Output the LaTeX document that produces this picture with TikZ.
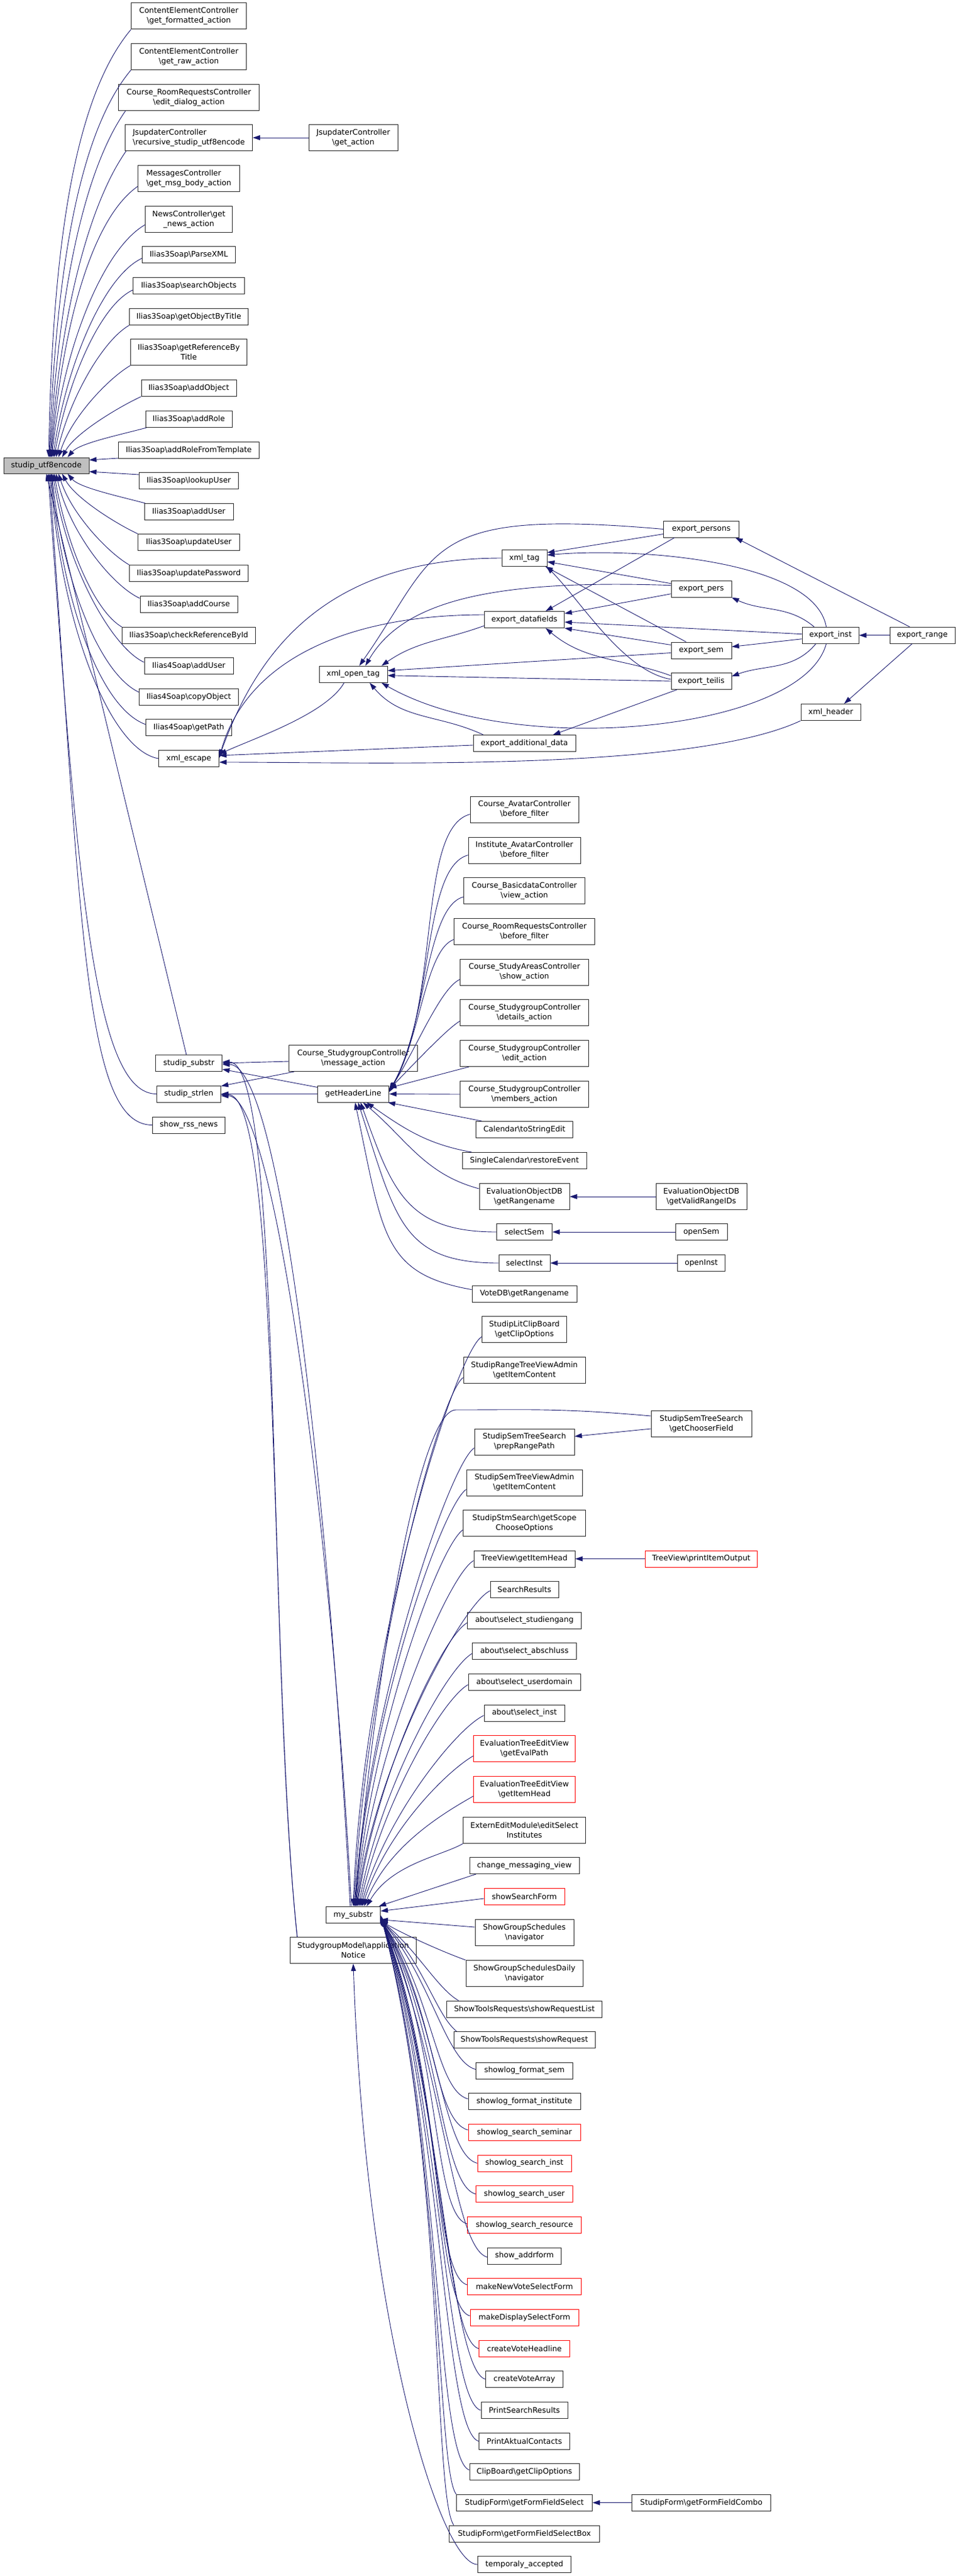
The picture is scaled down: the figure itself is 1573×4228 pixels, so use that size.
\documentclass[tikz,border=0pt]{standalone}
\usepackage{fontspec}
\setmainfont{DejaVu Sans}
\usetikzlibrary{arrows.meta,calc}
\definecolor{navy}{HTML}{191970}
\definecolor{gfill}{HTML}{BFBFBF}
\newcommand\bsl{\textbackslash}
\newcommand\Nd[7][]{\node[box,#1,minimum width=#5pt,minimum height=#6pt] (#2) at (#3,-#4) {#7};}
\tikzset{
  box/.style={draw=black!85, line width=1pt, fill=white, inner sep=0pt, align=center, font=\fontsize{12.5}{16}\selectfont},
  rbox/.style={draw=red},
  edg/.style={draw=navy, line width=0.9pt, -{Triangle[length=12pt,width=8pt]}},
}
\begin{document}
\begin{tikzpicture}[x=1pt,y=1pt]
\useasboundingbox (0,0) rectangle (1573,-4228);
\fill[white] (0,0) rectangle (1573,-4228);
% rank 0
\Nd[fill=gfill]{utf}{76}{764}{140}{26}{studip\_utf8encode}
% rank 1
\Nd{cecf}{310}{26.5}{189}{43}{ContentElementController\\\bsl get\_formatted\_action}
\Nd{cecr}{310}{93}{189}{43}{ContentElementController\\\bsl get\_raw\_action}
\Nd{crre}{310}{160}{231}{43}{Course\_RoomRequestsController\\\bsl edit\_dialog\_action}
\Nd[align=left]{jsrec}{310}{226}{209}{43}{JsupdaterController\\\bsl recursive\_studip\_utf8encode}
\Nd[align=left]{msg}{310}{293}{167}{43}{MessagesController\\\bsl get\_msg\_body\_action}
\Nd{news}{310}{360}{143}{43}{NewsController\bsl get\\\_news\_action}
\Nd{parse}{310}{418}{153}{27}{Ilias3Soap\bsl ParseXML}
\Nd{search}{310}{469}{183}{27}{Ilias3Soap\bsl searchObjects}
\Nd{getobj}{310}{520}{195}{27}{Ilias3Soap\bsl getObjectByTitle}
\Nd{getref}{310}{578}{191}{43}{Ilias3Soap\bsl getReferenceBy\\Title}
\Nd{addobj}{310}{637}{156}{27}{Ilias3Soap\bsl addObject}
\Nd{addrole}{310}{688}{142}{27}{Ilias3Soap\bsl addRole}
\Nd{addrolet}{310}{739}{231}{27}{Ilias3Soap\bsl addRoleFromTemplate}
\Nd{lookup}{310}{789}{163}{27}{Ilias3Soap\bsl lookupUser}
\Nd{adduthree}{310}{840}{146}{27}{Ilias3Soap\bsl addUser}
\Nd{upduser}{310}{890}{167}{27}{Ilias3Soap\bsl updateUser}
\Nd{updpw}{310}{941}{195}{27}{Ilias3Soap\bsl updatePassword}
\Nd{addcourse}{310}{992}{160}{27}{Ilias3Soap\bsl addCourse}
\Nd{checkref}{310}{1043}{219}{27}{Ilias3Soap\bsl checkReferenceById}
\Nd{addufour}{310}{1093}{146}{27}{Ilias4Soap\bsl addUser}
\Nd{copyobj}{310}{1144}{163}{27}{Ilias4Soap\bsl copyObject}
\Nd{getpath}{310}{1194}{141}{27}{Ilias4Soap\bsl getPath}
\Nd{xmlesc}{310}{1245}{99}{27}{xml\_escape}
\Nd{substr}{310}{1745}{109}{27}{studip\_substr}
\Nd{strlen}{310}{1795.5}{105}{27}{studip\_strlen}
\Nd{rss}{310}{1846.5}{119}{27}{show\_rss\_news}
% rank 2
\Nd{jsget}{580}{226}{146}{43}{JsupdaterController\\\bsl get\_action}
\Nd{xmlopen}{580}{1106.7}{112}{27}{xml\_open\_tag}
\Nd{sgmsg}{580}{1737}{211}{43}{Course\_StudygroupController\\\bsl message\_action}
\Nd{ghl}{580}{1795.5}{117}{27}{getHeaderLine}
\Nd{mysub}{580}{3142.7}{89}{27}{my\_substr}
\Nd{sgm}{580}{3201}{207}{43}{StudygroupModel\bsl application\\Notice}
% rank 3
\Nd{xmltag}{861}{916}{74}{27}{xml\_tag}
\Nd{expdf}{861}{1017}{131}{27}{export\_datafields}
\Nd{expadd}{861}{1220}{168}{27}{export\_additional\_data}
\Nd{cav}{861}{1328.5}{178}{43}{Course\_AvatarController\\\bsl before\_filter}
\Nd{iav}{861}{1395.5}{184}{43}{Institute\_AvatarController\\\bsl before\_filter}
\Nd{cbd}{861}{1462}{199}{43}{Course\_BasicdataController\\\bsl view\_action}
\Nd{crrbf}{861}{1529}{231}{43}{Course\_RoomRequestsController\\\bsl before\_filter}
\Nd{csa}{861}{1595.5}{211}{43}{Course\_StudyAreasController\\\bsl show\_action}
\Nd{csgd}{861}{1662}{211}{43}{Course\_StudygroupController\\\bsl details\_action}
\Nd{csge}{861}{1729}{211}{43}{Course\_StudygroupController\\\bsl edit\_action}
\Nd{csgm}{861}{1796}{211}{43}{Course\_StudygroupController\\\bsl members\_action}
\Nd{cal}{861}{1854}{159}{27}{Calendar\bsl toStringEdit}
\Nd{scal}{861}{1905}{204}{27}{SingleCalendar\bsl restoreEvent}
\Nd{eodr}{861}{1964}{148}{43}{EvaluationObjectDB\\\bsl getRangename}
\Nd{selsem}{861}{2022}{91}{27}{selectSem}
\Nd{selinst}{861}{2073}{84}{27}{selectInst}
\Nd{vote}{861}{2123.6}{172}{27}{VoteDB\bsl getRangename}
\Nd{slcb}{861}{2182}{139}{43}{StudipLitClipBoard\\\bsl getClipOptions}
\Nd{srtva}{861}{2249}{200}{43}{StudipRangeTreeViewAdmin\\\bsl getItemContent}
\Nd{sstsp}{861}{2366.5}{164}{43}{StudipSemTreeSearch\\\bsl prepRangePath}
\Nd{sstva}{861}{2433.5}{190}{43}{StudipSemTreeViewAdmin\\\bsl getItemContent}
\Nd{sss}{861}{2500}{201}{43}{StudipStmSearch\bsl getScope\\ChooseOptions}
\Nd{tvgih}{861}{2558.5}{166}{27}{TreeView\bsl getItemHead}
\Nd{sres}{861}{2609}{112}{27}{SearchResults}
\Nd{asg}{861}{2659.5}{187}{27}{about\bsl select\_studiengang}
\Nd{aab}{861}{2710}{171}{27}{about\bsl select\_abschluss}
\Nd{aud}{861}{2761}{184}{27}{about\bsl select\_userdomain}
\Nd{ain}{861}{2811.5}{132}{27}{about\bsl select\_inst}
\Nd[rbox]{etep}{861}{2870}{167}{43}{EvaluationTreeEditView\\\bsl getEvalPath}
\Nd[rbox]{eteh}{861}{2937}{167}{43}{EvaluationTreeEditView\\\bsl getItemHead}
\Nd{eem}{861}{3004}{201}{43}{ExternEditModule\bsl editSelect\\Institutes}
\Nd{cmv}{861}{3062}{180}{27}{change\_messaging\_view}
\Nd[rbox]{ssf}{861}{3113}{132}{27}{showSearchForm}
\Nd{sgs}{861}{3172}{162}{43}{ShowGroupSchedules\\\bsl navigator}
\Nd{sgsd}{861}{3239}{192}{43}{ShowGroupSchedulesDaily\\\bsl navigator}
\Nd{strl}{861}{3297.6}{255}{27}{ShowToolsRequests\bsl showRequestList}
\Nd{str}{861}{3348}{232}{27}{ShowToolsRequests\bsl showRequest}
\Nd{sfs}{861}{3398.5}{159}{27}{showlog\_format\_sem}
\Nd{sfi}{861}{3449}{184}{27}{showlog\_format\_institute}
\Nd[rbox]{sssem}{861}{3500}{184}{27}{showlog\_search\_seminar}
\Nd[rbox]{ssi}{861}{3550.5}{154}{27}{showlog\_search\_inst}
\Nd[rbox]{ssu}{861}{3601}{159}{27}{showlog\_search\_user}
\Nd[rbox]{ssr}{861}{3652}{187}{27}{showlog\_search\_resource}
\Nd{saf}{861}{3702.6}{121}{27}{show\_addrform}
\Nd[rbox]{mnv}{861}{3753}{187}{27}{makeNewVoteSelectForm}
\Nd[rbox]{mds}{861}{3804}{178}{27}{makeDisplaySelectForm}
\Nd[rbox]{cvh}{861}{3854.7}{149}{27}{createVoteHeadline}
\Nd{cva}{861}{3905}{127}{27}{createVoteArray}
\Nd{psr}{861}{3956}{142}{27}{PrintSearchResults}
\Nd{pac}{861}{4006.7}{149}{27}{PrintAktualContacts}
\Nd{cbgc}{861}{4057}{180}{27}{ClipBoard\bsl getClipOptions}
\Nd{sfgs}{861}{4107.6}{223}{27}{StudipForm\bsl getFormFieldSelect}
\Nd{sfgsb}{861}{4158.5}{247}{27}{StudipForm\bsl getFormFieldSelectBox}
\Nd{tacc}{861}{4209}{153}{27}{temporaly\_accepted}
% rank 4
\Nd{expersons}{1151.5}{868.5}{124}{27}{export\_persons}
\Nd{expers}{1151.5}{966.7}{99}{27}{export\_pers}
\Nd{exsem}{1151.5}{1067.5}{99}{27}{export\_sem}
\Nd{exteilis}{1151.5}{1118}{99}{27}{export\_teilis}
\Nd{evrid}{1151.5}{1964}{149}{43}{EvaluationObjectDB\\\bsl getValidRangeIDs}
\Nd{opensem}{1151.5}{2022}{85}{27}{openSem}
\Nd{openinst}{1151.5}{2073}{78}{27}{openInst}
\Nd{sstcf}{1151.5}{2337}{165}{43}{StudipSemTreeSearch\\\bsl getChooserField}
\Nd[rbox]{tvpio}{1151.5}{2558.5}{184}{27}{TreeView\bsl printItemOutput}
\Nd{sfgc}{1151.5}{4107.6}{228}{27}{StudipForm\bsl getFormFieldCombo}
% rank 5, 6
\Nd{expinst}{1363.6}{1042.7}{93}{27}{export\_inst}
\Nd{xmlhdr}{1364}{1169}{98}{27}{xml\_header}
\Nd{exprange}{1514.5}{1042.7}{107}{27}{export\_range}

% ---------- edges into studip_utf8encode
\draw[edg] (cecf.south west) .. controls +(230:150) and +(89:330) .. ([xshift=4pt]utf.north);
\draw[edg] (cecr.south west) .. controls +(230:135) and +(88:300) .. ([xshift=5pt]utf.north);
\draw[edg] ([xshift=12pt]crre.south west) .. controls +(235:120) and +(87:270) .. ([xshift=6pt]utf.north);
\draw[edg] ([xshift=2pt]jsrec.south west) .. controls +(235:105) and +(86:240) .. ([xshift=7pt]utf.north);
\draw[edg] ([yshift=-13pt]msg.west) .. controls +(215:95) and +(85:210) .. ([xshift=8pt]utf.north);
\draw[edg] ([yshift=-9pt]news.west) .. controls +(210:80) and +(84:180) .. ([xshift=9pt]utf.north);
\draw[edg] ([yshift=-6pt]parse.west) .. controls +(205:70) and +(82:150) .. ([xshift=11pt]utf.north);
\draw[edg] ([yshift=-7pt]search.west) .. controls +(205:60) and +(80:125) .. ([xshift=13pt]utf.north);
\draw[edg] (getobj.south west) .. controls +(210:50) and +(77:100) .. ([xshift=16pt]utf.north);
\draw[edg] (getref.south west) .. controls +(210:40) and +(72:70) .. ([xshift=20pt]utf.north);
\draw[edg] (addobj.south west) .. controls +(205:40) and +(62:45) .. ([xshift=26pt]utf.north);
\draw[edg] ([xshift=2pt]addrole.south west) .. controls +(195:45) and +(50:30) .. ([xshift=35pt]utf.north);
\draw[edg] ([yshift=1pt]addrolet.south west) -- ([yshift=9pt]utf.east);
\draw[edg] ([yshift=-4pt]lookup.north west) -- ([yshift=-10pt]utf.east);
\draw[edg] ([xshift=2pt]adduthree.north west) .. controls +(165:45) and +(-50:30) .. ([xshift=35pt]utf.south);
\draw[edg] (upduser.north west) .. controls +(155:40) and +(-62:45) .. ([xshift=26pt]utf.south);
\draw[edg] (updpw.north west) .. controls +(150:40) and +(-72:70) .. ([xshift=20pt]utf.south);
\draw[edg] ([yshift=-4pt]addcourse.north west) .. controls +(155:50) and +(-77:100) .. ([xshift=16pt]utf.south);
\draw[edg] (checkref.north west) .. controls +(150:50) and +(-80:125) .. ([xshift=13pt]utf.south);
\draw[edg] ([yshift=-8pt]addufour.north west) .. controls +(155:60) and +(-82:150) .. ([xshift=11pt]utf.south);
\draw[edg] ([yshift=-6pt]copyobj.north west) .. controls +(155:70) and +(-84:180) .. ([xshift=9pt]utf.south);
\draw[edg] ([yshift=-9pt]getpath.north west) .. controls +(160:80) and +(-85:210) .. ([xshift=8pt]utf.south);
\draw[edg] (xmlesc.west) .. controls +(170:80) and +(-86:250) .. ([xshift=7pt]utf.south);
\draw[edg] ([xshift=-4pt]substr.north) -- (utf.south);
\draw[edg] (strlen.west) .. controls +(180:100) and +(-86:700) .. ([xshift=3pt]utf.south);
\draw[edg] (rss.west) .. controls +(180:110) and +(-86:760) .. ([xshift=5pt]utf.south);
\draw[edg] (jsget.west) -- (jsrec.east);

% ---------- xml / export group
\draw[edg] ([xshift=-15pt]xmlopen.south) .. controls +(240:60) and +(25:60) .. ([yshift=7pt]xmlesc.east);
\draw[edg] (xmltag.west) .. controls +(180:300) and +(70:170) .. ([yshift=3pt]xmlesc.east);
\draw[edg] ([yshift=8pt]expdf.west) .. controls +(180:250) and +(75:150) .. ([yshift=1pt]xmlesc.east);
\draw[edg] ([yshift=-3pt]expadd.west) -- ([yshift=5pt]xmlesc.east);
\draw[edg] (xmlhdr.south west) .. controls +(205:200) and +(0:250) .. ([yshift=-6pt]xmlesc.east);

\draw[edg] (expersons.west) .. controls +(175:400) and +(55:230) .. ([xshift=10pt]xmlopen.north);
\draw[edg] ([yshift=6pt]expers.west) .. controls +(178:300) and +(60:120) .. ([xshift=20pt]xmlopen.north);
\draw[edg] ([yshift=-10pt]expdf.west) to[out=200,in=35] ([xshift=-10pt]xmlopen.north east);
\draw[edg] ([yshift=-4pt]exsem.west) -- ([yshift=6pt]xmlopen.east);
\draw[edg] (exteilis.west) -- ([yshift=-2pt]xmlopen.east);
\draw[edg] ([xshift=-7pt]expinst.south) .. controls +(-105:150) and +(-30:250) .. ([xshift=-10pt]xmlopen.south east);
\draw[edg] ([xshift=17pt]expadd.north west) to[out=155,in=-50] ([xshift=27pt]xmlopen.south);

\draw[edg] ([yshift=-8pt]expersons.west) -- ([yshift=9pt]xmltag.east);
\draw[edg] ([xshift=-7pt]expinst.north) .. controls +(100:110) and +(5:150) .. ([yshift=5pt]xmltag.east);
\draw[edg] ([yshift=9pt]expers.west) -- ([yshift=-6pt]xmltag.east);
\draw[edg] ([xshift=-25pt]exsem.north) -- ([xshift=-3pt]xmltag.south east);
\draw[edg] ([yshift=3pt]exteilis.west) .. controls +(170:80) and +(-45:80) .. ([xshift=-1pt]xmltag.south east);

\draw[edg] ([xshift=-44pt]expersons.south) -- ([xshift=35pt]expdf.north);
\draw[edg] ([yshift=-8pt]expers.west) -- ([yshift=10pt]expdf.east);
\draw[edg] ([yshift=2pt]expinst.west) -- ([yshift=-4pt]expdf.east);
\draw[edg] ([yshift=9pt]exsem.west) -- (expdf.south east);
\draw[edg] ([yshift=9pt]exteilis.west) to[out=160,in=-40] ([xshift=35pt]expdf.south);
\draw[edg] ([xshift=-40pt]exteilis.south) -- ([xshift=47pt]expadd.north);

\draw[edg] (exprange.west) -- (expinst.east);
\draw[edg] ([xshift=-27pt]expinst.north) to[out=140,in=-25] (expers.south east);
\draw[edg] ([yshift=-6pt]expinst.west) -- ([yshift=6pt]exsem.east);
\draw[edg] ([xshift=-24pt]expinst.south) to[out=-130,in=20] ([yshift=8pt]exteilis.east);
\draw[edg] ([xshift=-21pt]exprange.north) -- ([xshift=56pt]expersons.south);
\draw[edg] ([xshift=-17pt]exprange.south) -- ([xshift=22pt]xmlhdr.north);

% ---------- studip_substr / studip_strlen
\draw[edg] ([yshift=-5pt]sgmsg.west) -- (substr.east);
\draw[edg] ([yshift=11pt]ghl.west) -- ([yshift=-10pt]substr.east);
\draw[edg] ([xshift=9pt]sgmsg.south west) -- ([yshift=13pt]strlen.east);
\draw[edg] (ghl.west) -- (strlen.east);
\draw[edg] ([xshift=-5pt]mysub.north) .. controls +(93:630) and +(0:100) .. ([yshift=-2pt]substr.east);
\draw[edg] ([xshift=-3pt]mysub.north) .. controls +(93:600) and +(0:90) .. ([yshift=-3pt]strlen.east);
\draw[edg] ([xshift=12pt]sgm.north west) .. controls +(96:480) and +(0:100) .. ([yshift=2pt]substr.east);
\draw[edg] ([xshift=12pt]sgm.north west) .. controls +(96:450) and +(0:100) .. ([yshift=-1pt]strlen.east);
\draw[edg] (tacc.west) .. controls +(180:60) and +(-88:600) .. (sgm.south);

% ---------- getHeaderLine
\draw[edg] ([yshift=-8pt]cav.west) .. controls +(195:90) and +(60:170) .. ([yshift=3pt]ghl.east);
\draw[edg] ([yshift=-8pt]iav.west) .. controls +(195:78) and +(60:148) .. ([yshift=4pt]ghl.east);
\draw[edg] ([yshift=-10pt]cbd.west) .. controls +(195:64) and +(60:122) .. ([yshift=5pt]ghl.east);
\draw[edg] ([yshift=-13pt]crrbf.west) .. controls +(200:50) and +(58:95) .. ([yshift=6pt]ghl.east);
\draw[edg] ([yshift=-12pt]csa.west) .. controls +(205:37) and +(55:70) .. ([yshift=7pt]ghl.east);
\draw[edg] ([yshift=-14pt]csgd.west) .. controls +(210:25) and +(45:45) .. ([yshift=8pt]ghl.east);
\draw[edg] ([xshift=15pt]csge.south west) -- ([yshift=10pt]ghl.east);
\draw[edg] (csgm.west) -- (ghl.east);
\draw[edg] ([xshift=10pt]cal.north west) -- ([xshift=-2pt]ghl.south east);
\draw[edg] ([xshift=16pt]scal.north west) to[out=170,in=-35] ([xshift=22pt]ghl.south);
\draw[edg] ([yshift=13pt]eodr.west) to[out=165,in=-40] ([xshift=16pt]ghl.south);
\draw[edg] (selsem.west) .. controls +(180:150) and +(-70:150) .. ([xshift=12pt]ghl.south);
\draw[edg] (selinst.west) .. controls +(180:160) and +(-72:200) .. ([xshift=8pt]ghl.south);
\draw[edg] ([yshift=7pt]vote.west) .. controls +(170:150) and +(-78:220) .. ([xshift=3pt]ghl.south);
\draw[edg] (evrid.west) -- (eodr.east);
\draw[edg] (opensem.west) -- (selsem.east);
\draw[edg] (openinst.west) -- (selinst.east);

% ---------- my_substr (callers above)
\draw[edg] ([yshift=-12pt]slcb.west) .. controls +(210:50) and +(88:420) .. (mysub.north);
\draw[edg] ([yshift=-12pt]srtva.west) .. controls +(215:50) and +(87:380) .. ([xshift=1pt]mysub.north);
\draw[edg] ([yshift=13pt]sstcf.west) .. controls +(175:150) and +(0:120) .. ++(-320,10) .. controls +(180:60) and +(85:400) .. ([xshift=3pt]mysub.north);
\draw[edg] ([yshift=-10pt]sstsp.west) .. controls +(215:50) and +(86:340) .. ([xshift=2pt]mysub.north);
\draw[edg] ([yshift=-11pt]sstva.west) .. controls +(215:50) and +(86:310) .. ([xshift=3pt]mysub.north);
\draw[edg] ([yshift=-11pt]sss.west) .. controls +(215:50) and +(85:280) .. ([xshift=4pt]mysub.north);
\draw[edg] ([yshift=-3pt]tvgih.west) .. controls +(210:50) and +(84:250) .. ([xshift=5pt]mysub.north);
\draw[edg] ([yshift=-2pt]sres.west) .. controls +(205:50) and +(83:230) .. ([xshift=6pt]mysub.north);
\draw[edg] ([yshift=-4pt]asg.west) .. controls +(210:50) and +(82:210) .. ([xshift=7pt]mysub.north);
\draw[edg] ([yshift=-4pt]aab.west) .. controls +(210:50) and +(80:190) .. ([xshift=9pt]mysub.north);
\draw[edg] ([yshift=-4pt]aud.west) .. controls +(210:50) and +(78:170) .. ([xshift=11pt]mysub.north);
\draw[edg] ([yshift=-4pt]ain.west) .. controls +(205:50) and +(75:150) .. ([xshift=13pt]mysub.north);
\draw[edg] ([yshift=-12pt]etep.west) .. controls +(210:50) and +(72:130) .. ([xshift=15pt]mysub.north);
\draw[edg] ([yshift=-11pt]eteh.west) .. controls +(210:50) and +(68:110) .. ([xshift=18pt]mysub.north);
\draw[edg] (eem.south west) .. controls +(210:40) and +(60:80) .. ([xshift=22pt]mysub.north);
\draw[edg] ([xshift=11pt]cmv.south west) -- ([xshift=-3pt]mysub.north east);
\draw[edg] ([yshift=-3pt]ssf.west) -- ([yshift=6pt]mysub.east);
\draw[edg] ([yshift=-8pt]sstcf.west) -- ([yshift=9pt]sstsp.east);
\draw[edg] (tvpio.west) -- (tvgih.east);

% ---------- my_substr (callers below)
\draw[edg] ([yshift=9pt]sgs.west) -- ([yshift=-8pt]mysub.east);
\draw[edg] (sgsd.north west) .. controls +(160:50) and +(-30:40) .. ([yshift=-10pt]mysub.east);
\draw[edg] ([xshift=20pt]strl.north west) .. controls +(150:40) and +(-40:80) .. ([yshift=-9pt]mysub.east);
\draw[edg] ([xshift=5pt]str.north west) .. controls +(140:45) and +(-45:100) .. ([yshift=-9pt]mysub.east);
\draw[edg] ([yshift=2pt]sfs.west) .. controls +(165:50) and +(-50:130) .. ([yshift=-8pt]mysub.east);
\draw[edg] ([yshift=4pt]sfi.west) .. controls +(165:55) and +(-55:150) .. ([yshift=-8pt]mysub.east);
\draw[edg] ([yshift=4pt]sssem.west) .. controls +(165:60) and +(-58:170) .. ([yshift=-7pt]mysub.east);
\draw[edg] (ssi.west) .. controls +(165:60) and +(-60:190) .. ([yshift=-7pt]mysub.east);
\draw[edg] (ssu.west) .. controls +(165:60) and +(-62:210) .. ([yshift=-6pt]mysub.east);
\draw[edg] ([yshift=2pt]ssr.west) .. controls +(165:60) and +(-64:230) .. ([yshift=-6pt]mysub.east);
\draw[edg] ([yshift=-2pt]saf.west) .. controls +(165:60) and +(-66:250) .. ([yshift=-5pt]mysub.east);
\draw[edg] ([yshift=3pt]mnv.west) .. controls +(165:60) and +(-68:270) .. ([yshift=-5pt]mysub.east);
\draw[edg] ([yshift=3pt]mds.west) .. controls +(165:60) and +(-69:290) .. ([yshift=-4pt]mysub.east);
\draw[edg] (cvh.west) .. controls +(165:60) and +(-70:300) .. ([yshift=-4pt]mysub.east);
\draw[edg] (cva.west) .. controls +(165:60) and +(-71:310) .. ([yshift=-3pt]mysub.east);
\draw[edg] (psr.west) .. controls +(165:60) and +(-72:330) .. ([yshift=-3pt]mysub.east);
\draw[edg] (pac.west) .. controls +(165:60) and +(-73:350) .. ([yshift=-2pt]mysub.east);
\draw[edg] ([yshift=3pt]cbgc.west) .. controls +(160:60) and +(-74:370) .. ([yshift=-2pt]mysub.east);
\draw[edg] (sfgs.north west) .. controls +(130:50) and +(-75:390) .. ([yshift=-1pt]mysub.east);
\draw[edg] ([xshift=8pt]sfgsb.north west) .. controls +(125:60) and +(-75:410) .. ([yshift=-1pt]mysub.east);
\draw[edg] (sfgc.west) -- (sfgs.east);
\end{tikzpicture}
\end{document}
